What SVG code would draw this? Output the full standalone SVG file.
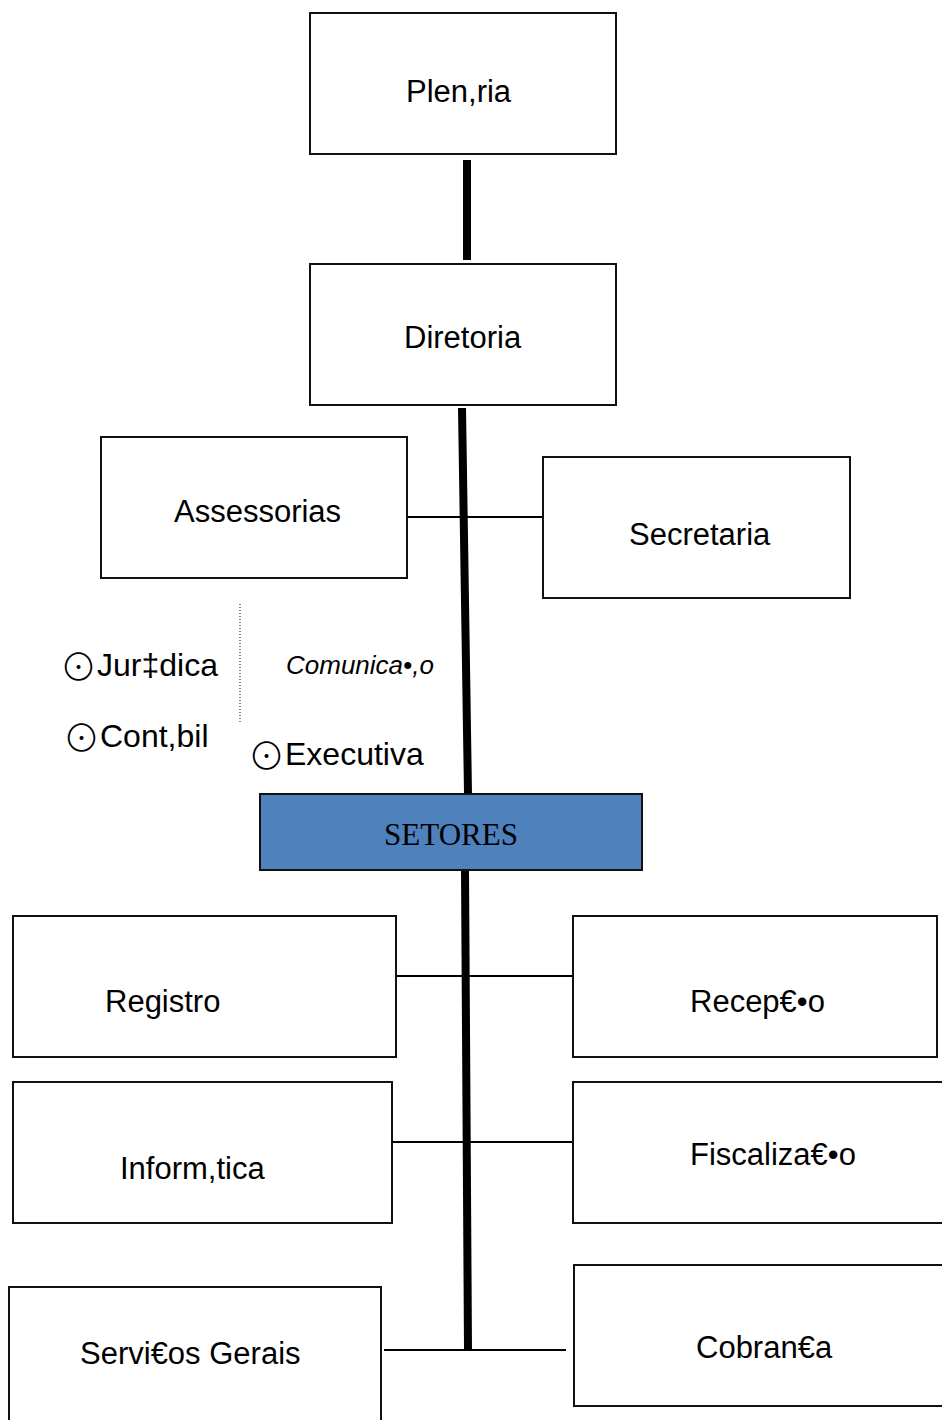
<svg xmlns="http://www.w3.org/2000/svg" width="942" height="1420" viewBox="0 0 942 1420">
<style>
.box{fill:#fff;stroke:#111;stroke-width:2}
.t{font-family:"Liberation Sans","DejaVu Sans",sans-serif;font-size:31px;fill:#000}
.li{font-size:32px}
.dot{font-family:"Noto Sans CJK JP","DejaVu Sans",sans-serif;font-size:37px;font-weight:300}
.thick{stroke:#000;stroke-width:8;fill:none}
.thin{stroke:#000;stroke-width:2;fill:none}
</style>
<rect width="942" height="1420" fill="#fff"/>
<g id="connectors">
<line class="thick" x1="467" y1="160" x2="467" y2="260"/>
<line class="thick" x1="462" y1="408" x2="468" y2="794"/>
<line class="thick" x1="465" y1="870" x2="468" y2="1350"/>
<line class="thin" x1="407" y1="517" x2="543" y2="517"/>
<line class="thin" x1="392" y1="976" x2="573" y2="976"/>
<line class="thin" x1="392" y1="1142" x2="573" y2="1142"/>
<line class="thin" x1="384" y1="1350" x2="566" y2="1350"/>
<line x1="240" y1="604" x2="240" y2="722" stroke="#000" stroke-width="1" stroke-dasharray="1,2"/>
</g>
<g id="plenaria"><rect class="box" x="310" y="13" width="306" height="141"/><text class="t" x="406" y="102">Plen,ria</text></g>
<g id="diretoria"><rect class="box" x="310" y="264" width="306" height="141"/><text class="t" x="404" y="348">Diretoria</text></g>
<g id="assessorias"><rect class="box" x="101" y="437" width="306" height="141"/><text class="t" x="174" y="522">Assessorias</text></g>
<g id="secretaria"><rect class="box" x="543" y="457" width="307" height="141"/><text class="t" x="629" y="545">Secretaria</text></g>
<g id="assessorias-list">
<text class="t li" x="60" y="676"><tspan class="dot" dy="5">⊙</tspan><tspan dy="-5">Jur‡dica</tspan></text>
<text class="t" x="286" y="674" style="font-size:26px;font-style:italic">Comunica•,o</text>
<text class="t li" x="63" y="747"><tspan class="dot" dy="5">⊙</tspan><tspan dy="-5">Cont,bil</tspan></text>
<text class="t li" x="248" y="765"><tspan class="dot" dy="5">⊙</tspan><tspan dy="-5">Executiva</tspan></text>
</g>
<g id="setores"><rect x="260" y="794" width="382" height="76" fill="#4f81bd" stroke="#111" stroke-width="2"/><text x="451" y="845" text-anchor="middle" style="font-family:'Liberation Serif',serif;font-size:31px;fill:#000">SETORES</text></g>
<g id="registro"><rect class="box" x="13" y="916" width="383" height="141"/><text class="t" x="105" y="1012">Registro</text></g>
<g id="recepcao"><rect class="box" x="573" y="916" width="364" height="141"/><text class="t" x="690" y="1012">Recep€•o</text></g>
<g id="informatica"><rect class="box" x="13" y="1082" width="379" height="141"/><text class="t" x="120" y="1179">Inform,tica</text></g>
<g id="fiscalizacao"><rect class="box" x="573" y="1082" width="380" height="141"/><text class="t" x="690" y="1165">Fiscaliza€•o</text></g>
<g id="servicos"><rect class="box" x="9" y="1287" width="372" height="150"/><text class="t" x="80" y="1364">Servi€os Gerais</text></g>
<g id="cobranca"><rect class="box" x="574" y="1265" width="380" height="141"/><text class="t" x="696" y="1358">Cobran€a</text></g>
</svg>
